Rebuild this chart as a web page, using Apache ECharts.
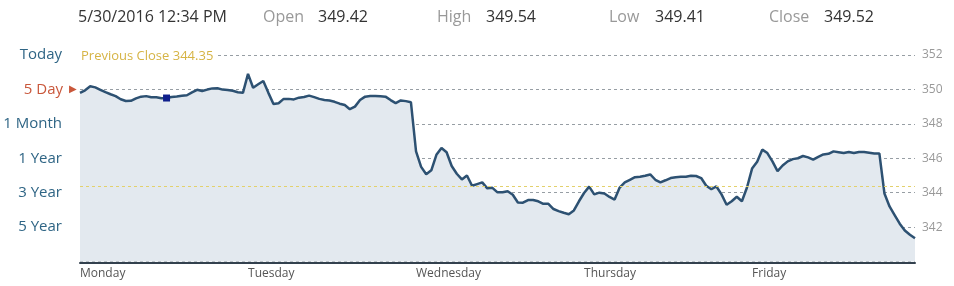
<!DOCTYPE html>
<html>
<head>
<meta charset="utf-8">
<script src="https://cdn.jsdelivr.net/npm/echarts@6/dist/echarts.min.js"></script>
<style>
html,body{margin:0;padding:0;background:#fff;}
#c{width:954px;height:286px;}
</style>
</head>
<body>
<div id="c"></div>
<script>
// ---- data ----
const dateText = '5/30/2016 12:34 PM';
const headerLabels = ['Open', 'High', 'Low', 'Close'];
const headerValues = ['349.42', '349.54', '349.41', '349.52'];
const rangeLabels = ['Today', '5 Day', '1 Month', '1 Year', '3 Year', '5 Year'];
const rangeTicks = [352, 350, 348, 346, 344, 342];
const activeRange = '5 Day';
const prevClose = 344.35;
const days = ['Monday', 'Tuesday', 'Wednesday', 'Thursday', 'Friday'];
const monday = [349.80, 349.95, 350.18, 350.12, 349.98, 349.84, 349.72, 349.61, 349.43, 349.33, 349.34,
  349.48, 349.58, 349.61, 349.54, 349.55, 349.49, 349.50, 349.56, 349.59, 349.63, 349.66,
  349.83, 349.98, 349.91, 349.99, 350.06, 350.07, 349.99, 349.97, 349.92, 349.84, 349.80];
const tuesday = [350.90, 350.10, 350.30, 350.49, 349.80, 349.15, 349.20, 349.45, 349.45, 349.42, 349.52,
  349.56, 349.64, 349.55, 349.45, 349.39, 349.36, 349.28, 349.17, 349.09, 348.85, 349.00,
  349.38, 349.58, 349.62, 349.62, 349.60, 349.58, 349.38, 349.20, 349.36, 349.32, 349.25];
const wednesday = [346.40, 345.50, 345.07, 345.30, 346.20, 346.60, 346.35, 345.55, 345.10, 344.77, 345.00,
  344.40, 344.50, 344.60, 344.25, 344.28, 344.02, 344.02, 344.08, 343.88, 343.43, 343.42,
  343.57, 343.57, 343.50, 343.35, 343.35, 343.05, 342.93, 342.83, 342.75, 342.97, 343.50];
const thursday = [343.98, 344.35, 343.90, 344.00, 343.95, 343.75, 343.60, 344.30, 344.60, 344.75, 344.90,
  344.92, 344.98, 345.06, 344.75, 344.60, 344.72, 344.85, 344.90, 344.92, 344.92, 344.98,
  344.97, 344.85, 344.40, 344.20, 344.36, 343.90, 343.30, 343.50, 343.76, 343.50, 344.30];
const friday = [345.40, 345.80, 346.50, 346.30, 345.82, 345.25, 345.58, 345.82, 345.95, 346.00, 346.13,
  346.05, 345.92, 346.08, 346.22, 346.26, 346.40, 346.35, 346.30, 346.36, 346.30, 346.36,
  346.36, 346.32, 346.28, 346.28, 343.95, 343.20, 342.70, 342.20, 341.80, 341.55, 341.35];
const markerDay = 0, markerIndex = 17;
const yMin = 340, yMax = 352, yStep = 2;

// ---- build ----
const dayValues = [monday, tuesday, wednesday, thursday, friday];
const categories = [];
const values = [];
const dayStart = {};
dayValues.forEach((arr, d) => {
  arr.forEach((v, j) => {
    if (j === 0) dayStart[categories.length] = days[d];
    categories.push(j === 0 ? days[d] : days[d] + ' ' + j);
    values.push(v);
  });
});
let markerPos = 0;
for (let d = 0; d < markerDay; d++) markerPos += dayValues[d].length;
markerPos += markerIndex;

const chart = echarts.init(document.getElementById('c'), null, {renderer: 'canvas'});
const FONT = '"Open Sans", "Noto Sans", sans-serif';

const headerX = [[263, 318], [437, 486], [609, 655], [769, 824]];
const graphics = [
  {type: 'text', left: 78, top: 9, style: {text: dateText, font: '16px ' + FONT, fill: '#333'}},
  {type: 'text', left: 79, top: 50, z: 100, style: {
    text: 'Previous Close ' + prevClose.toFixed(2), font: '13px ' + FONT, fill: '#d6b445',
    backgroundColor: '#fff', padding: [0, 3, 0, 2]
  }}
];
headerLabels.forEach((l, i) => {
  graphics.push({type: 'text', left: headerX[i][0], top: 9, style: {text: l, font: '16px ' + FONT, fill: '#999'}});
  graphics.push({type: 'text', left: headerX[i][1], top: 9, style: {text: headerValues[i], font: '16px ' + FONT, fill: '#333'}});
});

chart.setOption({
  animation: false,
  grid: {left: 80, right: 39, top: 55, bottom: 24.5},
  graphic: graphics,
  xAxis: {
    type: 'category',
    data: categories,
    boundaryGap: false,
    offset: 1,
    axisLine: {show: true, lineStyle: {color: '#33414e', width: 2}},
    axisTick: {show: false},
    axisLabel: {
      interval: (idx) => dayStart[idx] !== undefined,
      formatter: (v, idx) => dayStart[idx] || '',
      align: 'left',
      margin: 5,
      color: '#555',
      fontSize: 12,
      fontFamily: FONT
    },
    splitLine: {show: false}
  },
  yAxis: [{
    type: 'value',
    position: 'right',
    min: yMin, max: yMax, interval: yStep,
    axisLine: {show: false},
    axisTick: {show: false},
    axisLabel: {
      margin: 7, color: '#999', fontSize: 12, fontFamily: FONT,
      formatter: (v) => v === yMin ? '' : String(v)
    },
    splitLine: {show: true, lineStyle: {color: '#979ea4', type: [3, 3], width: 1}}
  }, {
    type: 'value',
    position: 'left',
    min: yMin, max: yMax, interval: yStep,
    axisLine: {show: false},
    axisTick: {show: false},
    splitLine: {show: false},
    axisLabel: {
      margin: 3,
      formatter: (v) => {
        const k = rangeTicks.indexOf(v);
        if (k < 0) return '';
        const name = rangeLabels[k];
        return name === activeRange ? '{r|' + name + '}{t|▶}' : '{n|' + name + '}';
      },
      rich: {
        n: {color: '#2f6585', fontSize: 15, fontFamily: FONT, padding: [0, 15, 0, 0]},
        r: {color: '#c9573b', fontSize: 15, fontFamily: FONT, padding: [0, 6, 0, 0]},
        t: {color: '#c9573b', fontSize: 10, fontFamily: FONT}
      }
    }
  }],
  series: [{
    type: 'line',
    data: values,
    symbol: 'none',
    yAxisIndex: 0,
    lineStyle: {color: '#2d5172', width: 2.5},
    areaStyle: {color: '#e3e9ef', opacity: 1},
    markLine: {
      silent: true,
      symbol: 'none',
      label: {show: false},
      lineStyle: {color: '#e3d16c', type: [3, 3], width: 1},
      data: [{yAxis: prevClose}]
    },
    markPoint: {
      symbol: 'rect',
      symbolSize: 7,
      itemStyle: {color: '#0f1f8c'},
      label: {show: false},
      data: [{coord: [markerPos, values[markerPos]]}]
    },
    z: 3
  }]
});
</script>
</body>
</html>
